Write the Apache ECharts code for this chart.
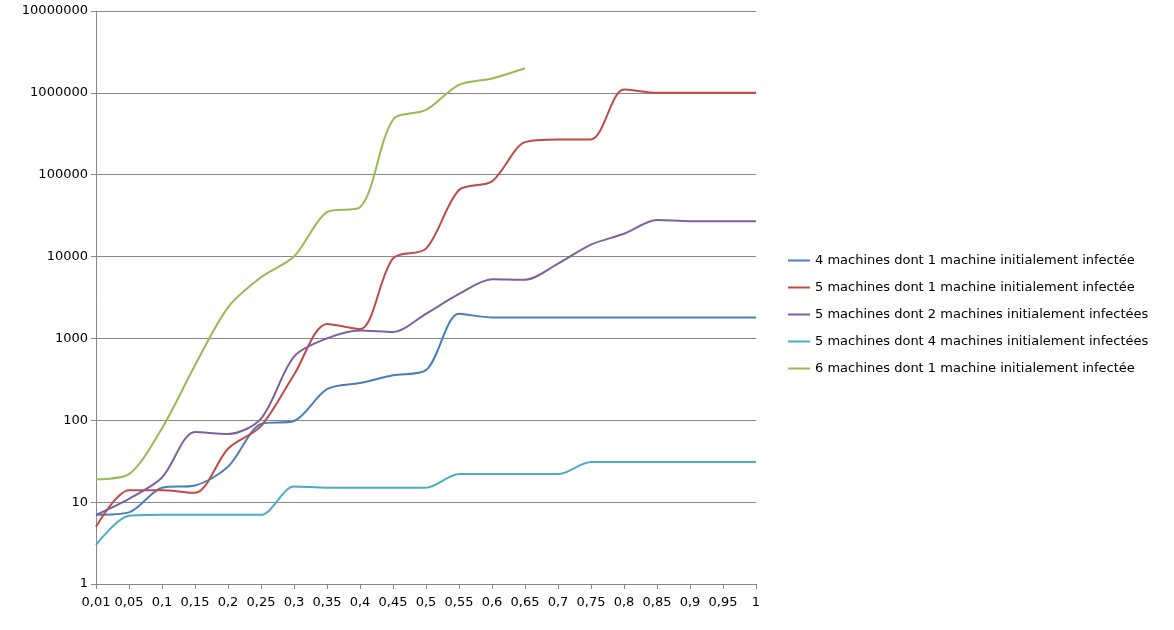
<!DOCTYPE html>
<html><head><meta charset="utf-8">
<script src="https://cdn.jsdelivr.net/npm/echarts@6/dist/echarts.min.js"></script>
<style>html,body{margin:0;background:#fff}#c{width:1174px;height:630px}</style>
</head><body><div id="c"></div>
<script>
const categories = ['0,01','0,05','0,1','0,15','0,2','0,25','0,3','0,35','0,4','0,45','0,5','0,55','0,6','0,65','0,7','0,75','0,8','0,85','0,9','0,95','1'];
const names = [
  '4 machines dont 1 machine initialement infectée',
  '5 machines dont 1 machine initialement infectée',
  '5 machines dont 2 machines initialement infectées',
  '5 machines dont 4 machines initialement infectées',
  '6 machines dont 1 machine initialement infectée'
];
const colors = ['#4A7EBB', '#BE4B48', '#7D60A0', '#4BACC6', '#98B954'];
const m4i1 = [7, 7.5, 15, 16, 27, 90, 98, 240, 285, 355, 410, 2000, 1800, 1800, 1800, 1800, 1800, 1800, 1800, 1800, 1800];
const m5i1 = [5, 14, 14, 13, 45, 85, 360, 1500, 1300, 9500, 12500, 65000, 83000, 250000, 270000, 270000, 1100000, 1000000, 1000000, 1000000, 1000000];
const m5i2 = [7, 11, 20, 72, 68, 105, 600, 1000, 1250, 1200, 2000, 3500, 5300, 5200, 8200, 14000, 19000, 28000, 27000, 27000, 27000];
const m5i4 = [3, 6.8, 7, 7, 7, 7, 15.5, 15, 15, 15, 15, 22, 22, 22, 22, 31, 31, 31, 31, 31, 31];
const m6i1 = [19, 22, 80, 470, 2400, 5600, 10000, 35000, 40000, 470000, 620000, 1250000, 1500000, 2000000];
const series = [m4i1, m5i1, m5i2, m5i4, m6i1];

const chart = echarts.init(document.getElementById('c'));
chart.setOption({
  animation: false,
  color: colors,
  grid: {left: 96, top: 11, width: 660, height: 573},
  legend: {
    orient: 'vertical', left: 783, top: 249, itemGap: 14,
    icon: 'rect', itemWidth: 22, itemHeight: 2,
    textStyle: {fontFamily: 'DejaVu Sans', fontSize: 13, color: '#000'}
  },
  xAxis: {
    type: 'category', data: categories, boundaryGap: false,
    axisLine: {lineStyle: {color: '#888'}},
    axisTick: {show: true, lineStyle: {color: '#888'}},
    axisLabel: {color: '#000', fontFamily: 'DejaVu Sans', fontSize: 13, interval: 0, margin: 12}
  },
  yAxis: {
    type: 'log', logBase: 10, min: 1, max: 10000000,
    axisLine: {show: true, lineStyle: {color: '#888'}},
    axisTick: {show: true, lineStyle: {color: '#888'}},
    splitLine: {lineStyle: {color: '#888'}},
    axisLabel: {color: '#000', fontFamily: 'DejaVu Sans', fontSize: 13, formatter: (v) => String(Math.round(v))}
  },
  series: series.map((d, i) => ({
    name: names[i], type: 'line', data: d, smooth: 0.3,
    showSymbol: false, lineStyle: {width: 2}
  }))
});
</script></body></html>
